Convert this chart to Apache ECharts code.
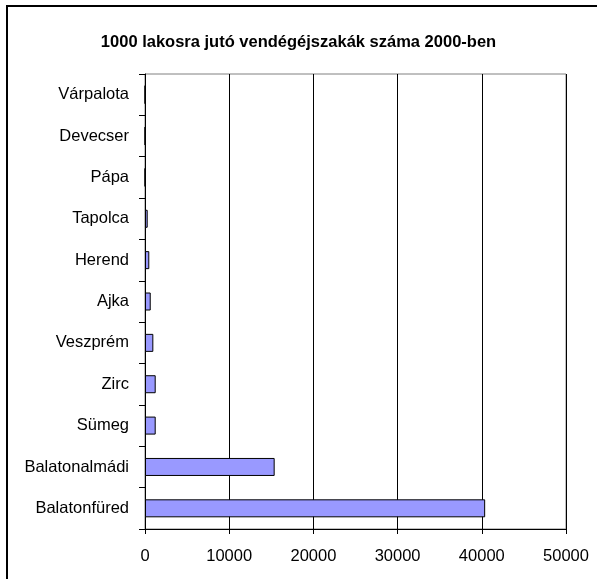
<!DOCTYPE html>
<html>
<head>
<meta charset="utf-8">
<script src="https://cdn.jsdelivr.net/npm/echarts@6/dist/echarts.min.js"></script>
<style>
  html, body { margin: 0; padding: 0; background: #fff; }
  #chart { width: 597px; height: 579px; }
</style>
</head>
<body>
<div id="chart"></div>
<script>
// adatok, alulrol felfele
const categories = ['Balatonfüred', 'Balatonalmádi', 'Sümeg', 'Zirc', 'Veszprém', 'Ajka', 'Herend', 'Tapolca', 'Pápa', 'Devecser', 'Várpalota'];
const values = [40400, 15400, 1270, 1270, 990, 680, 510, 320, 0, 0, 0];
const xTicks = [0, 10000, 20000, 30000, 40000, 50000];

let myChart = echarts.init(document.getElementById('chart'));
let option = {
    animation: false,
    backgroundColor: '#fff',
    title: {
        text: '1000 lakosra jutó vendégéjszakák száma 2000-ben',
        left: 'center',
        top: 29,
        textStyle: {
            color: '#000',
            fontFamily: 'Liberation Sans, Arial',
            fontSize: 16.5,
            fontWeight: 'bold'
        }
    },
    graphic: [{
        type: 'rect',
        shape: { x: 7, y: 6, width: 640, height: 640 },
        style: { fill: 'none', stroke: '#000', lineWidth: 2 },
        silent: true
    }],
    grid: {
        left: 145,
        right: 31,
        top: 74,
        bottom: 50,
        show: true,
        borderColor: '#808080',
        borderWidth: 1
    },
    xAxis: {
        type: 'value',
        min: xTicks[0],
        max: xTicks[xTicks.length - 1],
        interval: 10000,
        axisLine: { show: true, lineStyle: { color: '#000' } },
        axisTick: { show: true, length: 5, lineStyle: { color: '#000' } },
        axisLabel: {
            margin: 19,
            color: '#000',
            fontFamily: 'Liberation Sans, Arial',
            fontSize: 16.5,
            formatter: function (v) { return String(v); }
        },
        splitLine: { show: true, lineStyle: { color: '#000', width: 1 } }
    },
    yAxis: {
        type: 'category',
        data: categories,
        axisLine: { show: true, lineStyle: { color: '#000' } },
        axisTick: { show: true, length: 6, lineStyle: { color: '#000' } },
        axisLabel: {
            margin: 16,
            color: '#000',
            fontFamily: 'Liberation Sans, Arial',
            fontSize: 16.5
        },
        splitLine: { show: false }
    },
    series: [{
        type: 'bar',
        data: values,
        barWidth: 18,
        itemStyle: {
            color: '#9999FF',
            borderColor: '#000',
            borderWidth: 1
        }
    }]
};
myChart.setOption(option);
</script>
</body>
</html>
